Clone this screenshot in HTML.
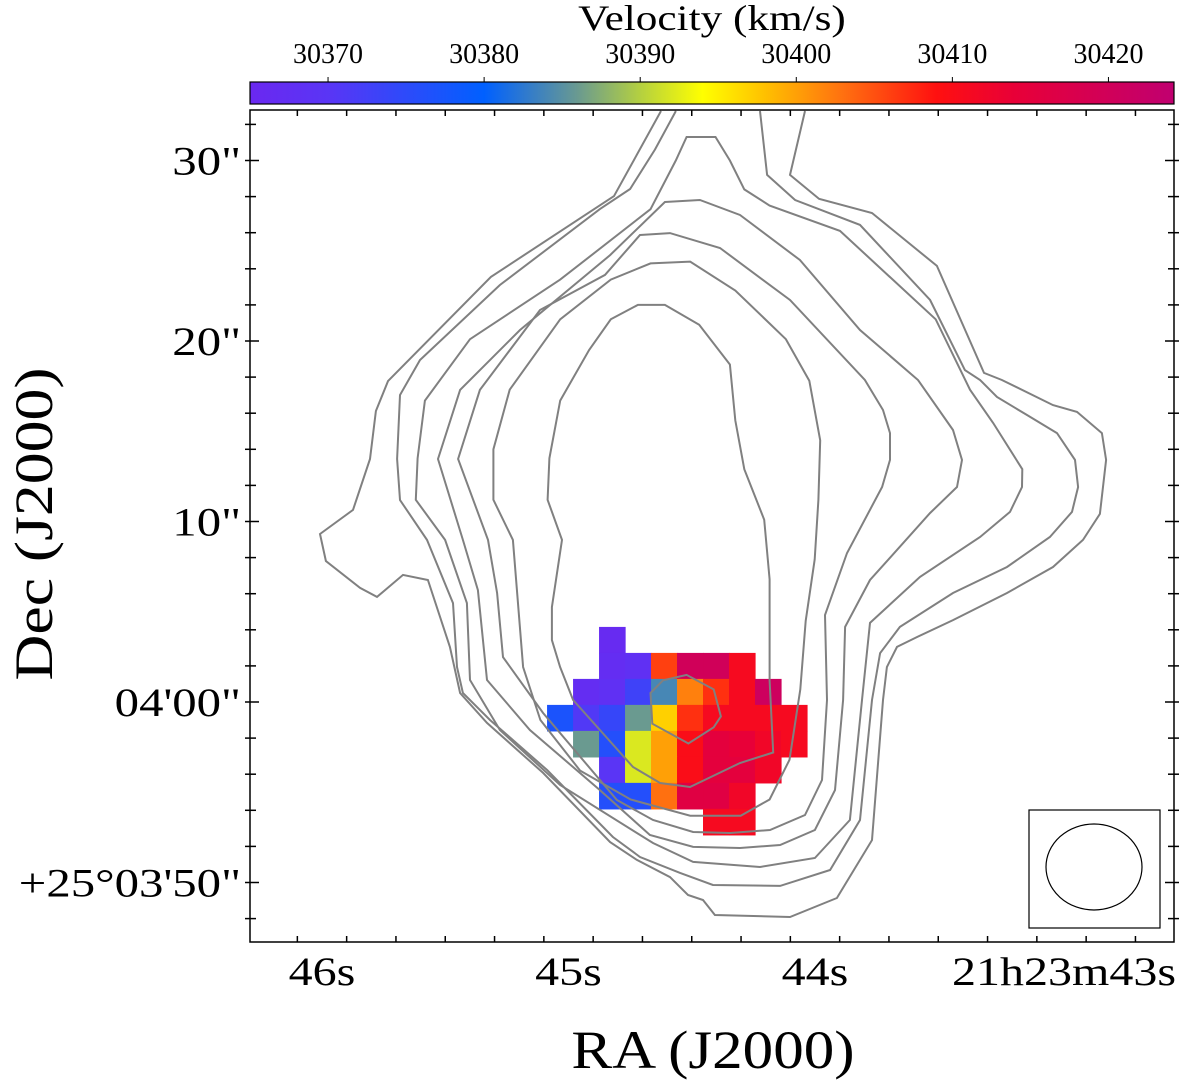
<!DOCTYPE html>
<html><head><meta charset="utf-8">
<style>
html,body{margin:0;padding:0;background:#fff;}
svg{display:block;font-family:"Liberation Serif",serif;}
</style></head>
<body>
<svg id="chart" width="1200" height="1083" viewBox="0 0 1200 1083" xmlns="http://www.w3.org/2000/svg">
<defs>
<clipPath id="plotclip"><rect x="250" y="110" width="924" height="832"/></clipPath>
<linearGradient id="cbgrad" x1="0" x2="1" y1="0" y2="0"></linearGradient>
</defs>
<g id="cbar"></g>
<g id="pixels" clip-path="url(#plotclip)"></g>
<g id="contours" clip-path="url(#plotclip)"></g>
<rect x="250" y="110" width="924" height="832" fill="none" stroke="#000" stroke-width="1.5"/>
<g id="ticks"></g>
<g>
<rect x="1029" y="810" width="131" height="118" fill="#fff" stroke="#000" stroke-width="1.2"/>
<ellipse cx="1094" cy="867" rx="48" ry="43" fill="none" stroke="#000" stroke-width="1.2"/>
</g>
<text id="xtitle" x="713" y="1068" font-size="54" text-anchor="middle">RA (J2000)</text>
<text id="ytitle" x="0" y="0" font-size="54" text-anchor="middle" transform="translate(52,524) rotate(-90)">Dec (J2000)</text>
<text id="cbtitle" x="712" y="30" font-size="36" text-anchor="middle">Velocity (km/s)</text>
</svg>
<script>
// ---- data ----
const raTicks = [46, 45, 44, 43];
const raTickLabels = ["46s", "45s", "44s", "21h23m43s"];
const decTicks = [30, 20, 10, 0, -10];
const decTickLabels = ['30"', '20"', '10"', '04\'00"', '+25°03\'50"'];
const cbTicks = [30370, 30380, 30390, 30400, 30410, 30420];
const cbRange = [30365, 30424.2];
const cmapVel = [30365, 30370, 30380, 30386, 30390, 30394, 30398, 30403, 30409, 30414, 30424.2];
const cmapCol = ["#6a28f0","#5a35f5","#0060ff","#6a9a90","#b4d040","#ffff00","#ffc000","#ff7010","#ff1010","#e80038","#c00070"];
const gridOrigin = [8.03, 4.16];
const cellSize = 1.44;
const pixCol = [2, 2,3,4,5,6,7, 1,2,3,4,5,6,7,8, 0,1,2,3,4,5,6,7,8,9, 1,2,3,4,5,6,7,8,9, 2,3,4,5,6,7,8, 2,3,4,5,6,7, 6,7];
const pixRow = [0, 1,1,1,1,1,1, 2,2,2,2,2,2,2,2, 3,3,3,3,3,3,3,3,3,3, 4,4,4,4,4,4,4,4,4, 5,5,5,5,5,5,5, 6,6,6,6,6,6, 7,7];
const pixVel = [30366, 30367,30368,30406,30420,30420,30411, 30367,30368,30373,30384,30402,30407,30411,30421,
  30377,30371,30374,30386,30397,30407,30411,30411,30411,30411,
  30386,30376,30392,30400,30410,30415,30414,30412,30411,
  30370,30392,30400,30410,30415,30415,30412,
  30376,30376,30403,30416,30416,30412, 30411,30411];
// contours in arcsec offsets [east, north] relative to 21h23m44.5s +25°04'00"
const contour1 = [[1.72,32.74],[4.32,28.03],[11.14,23.55],[16.84,17.78],[17.51,16.12],[17.84,13.46],[18.78,10.64],[20.61,9.31],[20.28,7.81],[18.39,6.32],[17.45,5.82],[16.01,7.04],[14.63,6.76],[13.41,3.05],[12.85,0.50],[11.36,-1.16],[8.25,-3.93],[4.54,-7.76],[3.05,-8.75],[1.22,-9.70],[0.22,-10.69],[-0.61,-10.97],[-1.27,-11.80],[-5.43,-11.91],[-8.03,-10.86],[-9.97,-7.65],[-10.58,0.11],[-10.80,1.94],[-11.36,3.05],[-12.47,3.60],[-14.46,4.54],[-17.45,6.04],[-20.00,7.48],[-21.66,8.98],[-22.60,10.42],[-22.94,13.41],[-22.71,14.90],[-21.33,16.07],[-20.00,16.45],[-17.17,17.84],[-16.18,18.23],[-13.57,24.16],[-9.97,27.09],[-7.04,27.87],[-5.43,29.20],[-6.26,32.74]];
const contour2 = [[0.89,32.74],[2.05,30.61],[3.43,28.42],[5.10,27.31],[10.64,23.10],[15.07,18.95],[16.18,17.01],[16.34,13.46],[16.18,11.19],[14.68,8.98],[13.24,5.48],[13.02,1.94],[12.69,0.50],[11.19,-1.00],[8.03,-3.77],[4.38,-7.48],[2.88,-8.59],[0.66,-9.47],[-1.16,-10.14],[-4.88,-10.19],[-7.65,-9.31],[-9.31,-6.54],[-9.97,0.11],[-10.42,2.71],[-11.52,4.16],[-14.46,6.04],[-17.45,7.48],[-19.83,9.14],[-21.05,10.53],[-21.39,11.91],[-21.22,13.41],[-20.22,14.90],[-18.56,15.90],[-16.90,16.90],[-15.96,17.84],[-15.12,18.39],[-13.19,22.27],[-9.31,26.43],[-5.71,27.81],[-4.16,29.20],[-3.77,32.74]];
const contour3 = [[0.3,31.3],[-1.3,31.3],[-2.1,30.0],[-2.9,28.4],[-4.3,27.5],[-8.2,26.1],[-13.5,21.2],[-15.4,17.3],[-16.68,15.46],[-18.3,12.9],[-18.28,11.91],[-17.62,10.53],[-15.96,9.14],[-12.63,6.93],[-9.86,4.38],[-9.42,0.11],[-8.75,-6.54],[-6.81,-8.64],[-3.77,-9.14],[-0.06,-8.86],[2.16,-7.81],[7.31,-4.60],[10.64,-1.55],[12.30,1.22],[12.47,5.48],[13.68,8.98],[15.3,11.2],[15.2,13.5],[14.8,16.7],[12.3,20.1],[7.3,23.4],[2.3,27.3],[0.9,30.0]];
const contour4 = [[1.50,27.70],[-0.44,27.81],[-2.66,26.98],[-5.98,24.49],[-9.31,20.61],[-12.52,17.84],[-14.46,15.07],[-14.96,13.41],[-14.68,11.91],[-13.19,10.47],[-9.86,6.76],[-8.48,4.16],[-8.37,0.11],[-7.92,-4.88],[-6.81,-7.09],[-4.88,-7.92],[-2.66,-8.09],[-0.06,-8.03],[2.33,-7.37],[5.10,-4.88],[8.98,-1.55],[11.36,1.22],[11.86,6.20],[12.69,8.98],[14.07,13.46],[12.85,17.29],[9.53,20.61],[4.54,24.76]];
const contour5 = [[2.88,25.87],[1.22,25.98],[-1.55,25.15],[-5.43,22.27],[-9.58,17.84],[-10.58,16.18],[-10.97,14.90],[-10.97,13.41],[-10.53,11.91],[-8.59,8.25],[-7.37,4.82],[-7.48,0.11],[-7.20,-4.32],[-6.26,-6.26],[-4.32,-7.09],[-2.11,-7.26],[-0.06,-7.20],[2.16,-6.54],[4.16,-5.43],[8.25,-0.61],[10.47,2.49],[10.80,6.04],[11.30,8.98],[12.96,13.46],[11.75,17.29],[8.42,21.72],[4.82,23.66]];
const contour6 = [[2.3,24.3],[0.1,24.4],[-2.4,22.8],[-5.2,20.1],[-6.5,17.8],[-7.1,14.5],[-7.0,11.2],[-6.8,7.9],[-6.3,4.5],[-6.0,0.7],[-5.4,-3.2],[-4.3,-5.4],[-2.7,-6.3],[0.1,-6.3],[3.4,-5.4],[6.2,-3.8],[8.4,-1.0],[9.36,1.94],[9.92,8.98],[11.0,11.2],[11.0,14.0],[10.1,17.3],[7.3,21.2],[4.5,23.4]];
const contour7 = [[3.0,22.0],[1.5,22.0],[-0.4,20.9],[-2.1,18.7],[-2.4,15.6],[-2.9,12.9],[-4.0,10.1],[-4.3,6.8],[-4.3,1.2],[-4.5,-2.8],[-2.66,-3.38],[0.11,-4.71],[1.77,-4.49],[3.27,-3.60],[6.59,0.11],[7.31,1.94],[7.76,3.43],[7.76,5.26],[7.20,8.98],[8.0,11.2],[7.9,13.5],[7.3,16.7],[5.7,19.5],[4.5,21.2]];
const contour8 = [[2.3,0.5],[1.6,1.2],[0.3,1.5],[-1.2,0.7],[-1.6,-0.8],[-1.2,-1.4],[0.2,-2.3],[2.2,-1.2]];

// ---- scales ----
const PX = 18.05;
const xOff = ox => 692 - ox * PX;
const yOff = oy => 702 - oy * PX;
const xRA = s => 815 + (44 - s) * 246.5;
const yDec = d => 702 - d * PX;
const xCb = v => 250 + (v - cbRange[0]) / (cbRange[1] - cbRange[0]) * 924;

function hex2rgb(h){return [parseInt(h.slice(1,3),16),parseInt(h.slice(3,5),16),parseInt(h.slice(5,7),16)];}
function cmap(v){
  if (v <= cmapVel[0]) return cmapCol[0];
  for (let i=1;i<cmapVel.length;i++){
    if (v <= cmapVel[i]){
      const t=(v-cmapVel[i-1])/(cmapVel[i]-cmapVel[i-1]);
      const a=hex2rgb(cmapCol[i-1]), b=hex2rgb(cmapCol[i]);
      return 'rgb('+a.map((c,k)=>Math.round(c+(b[k]-c)*t)).join(',')+')';
    }
  }
  return cmapCol[cmapCol.length-1];
}
const NS='http://www.w3.org/2000/svg';
function mk(tag, attrs, parent){const e=document.createElementNS(NS,tag);for(const k in attrs)e.setAttribute(k,attrs[k]);parent.appendChild(e);return e;}
function stretch(el,f){const w=el.getComputedTextLength();el.setAttribute('textLength',(w*f).toFixed(1));el.setAttribute('lengthAdjust','spacingAndGlyphs');}

const grad=document.getElementById('cbgrad');
cmapVel.forEach((v,i)=>{mk('stop',{offset:((v-cbRange[0])/(cbRange[1]-cbRange[0])),'stop-color':cmapCol[i]},grad);});
const cb=document.getElementById('cbar');
const cbRect=mk('rect',{x:250,y:82,width:924,height:22,fill:'url(#cbgrad)',stroke:'#000','stroke-width':1.2},cb);


cbTicks.forEach((v,i)=>{
  const x=xCb(v);
  const t=mk('line',{x1:x,x2:x,y1:77,y2:82,stroke:'#000','stroke-width':1},cb);
  
  
  const l=mk('text',{x:x,y:63,'font-size':28,'text-anchor':'middle'},cb);
  l.textContent=String(v);
  
  
});

const pg=document.getElementById('pixels');
pixVel.forEach((v,i)=>{
  const x=xOff(gridOrigin[0]-pixCol[i]*cellSize), y=yOff(gridOrigin[1]-pixRow[i]*cellSize);
  const r=mk('rect',{x:x,y:y,width:cellSize*PX+0.6,height:cellSize*PX+0.6,fill:cmap(v)},pg);
  
  
});

const cg=document.getElementById('contours');
[contour1,contour2].forEach(c=>{
  const p=mk('polyline',{points:c.map(q=>xOff(q[0]).toFixed(1)+','+yOff(q[1]).toFixed(1)).join(' '),fill:'none',stroke:'#808080','stroke-width':2},cg);
  
  
});
[contour3,contour4,contour5,contour6,contour7,contour8].forEach(c=>{
  const p=mk('polygon',{points:c.map(q=>xOff(q[0]).toFixed(1)+','+yOff(q[1]).toFixed(1)).join(' '),fill:'none',stroke:'#808080','stroke-width':2},cg);
  
  
});

const tg=document.getElementById('ticks');
function tick(x1,y1,x2,y2){const t=mk('line',{x1,y1,x2,y2,stroke:'#000','stroke-width':1.5},tg);
  
  }
for(let s=46.3;s>=42.55;s-=0.2){
  const x=xRA(Math.round(s*10)/10);
  if(x<251||x>1173) continue;
  const major=Math.abs(s-Math.round(s))<0.01;
  const L=major?9:6;
  tick(x,942,x,942-L); tick(x,110,x,110+L);
}
for(let d=-14;d<=32;d+=2){
  const y=yDec(d);
  if(y<111||y>941) continue;
  const major=d%10===0;
  const L=major?9:6;
  tick(250,y,250+L,y); tick(1174,y,1174-L,y);
  tick(250,y,245,y); tick(1174,y,1179,y);
}
raTicks.forEach((s,i)=>{
  const l=mk('text',{x:xRA(s),y:985,'font-size':40,'text-anchor':'middle'},tg);
  l.textContent=raTickLabels[i];
  
  
  stretch(l,1.2);
  if(i===raTicks.length-1){ l.setAttribute('text-anchor','end'); l.setAttribute('x',1176); }
});
decTicks.forEach((d,i)=>{
  const l=mk('text',{x:241,y:yDec(d)+14,'font-size':40,'text-anchor':'end'},tg);
  l.textContent=decTickLabels[i];
  
  
  stretch(l,1.22);
});
stretch(document.getElementById('xtitle'),1.13);
stretch(document.getElementById('ytitle'),1.18);
stretch(document.getElementById('cbtitle'),1.2);
</script>
</body></html>
